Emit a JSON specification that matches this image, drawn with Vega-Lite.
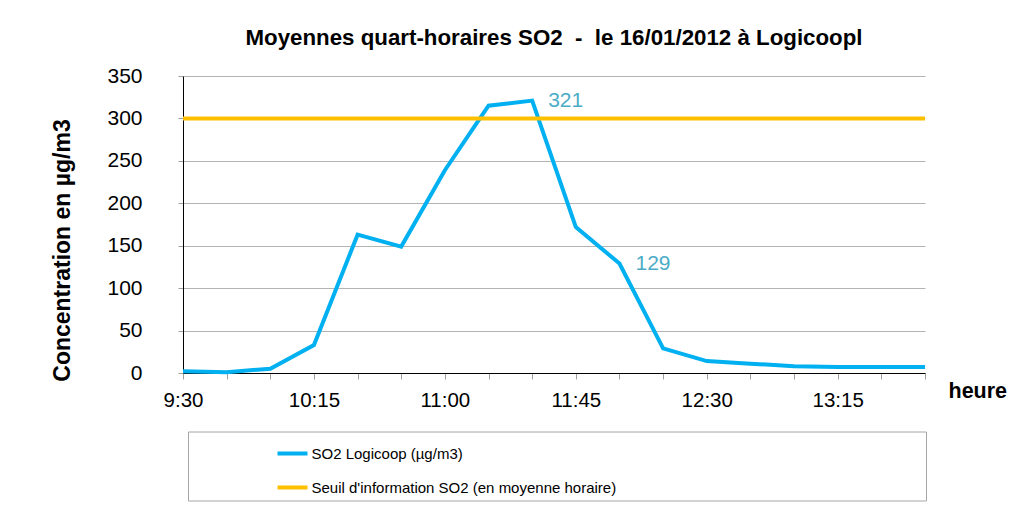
{
  "$schema": "https://vega.github.io/schema/vega-lite/v6.json",
  "width": 742,
  "height": 297,
  "autosize": "none",
  "padding": {"left": 183, "top": 76, "right": 106, "bottom": 141},
  "background": "white",
  "title": {
    "text": "Moyennes quart-horaires SO2\u00a0 -\u00a0 le 16/01/2012 à Logicoopl",
    "anchor": "middle",
    "frame": "group",
    "fontSize": 22.3,
    "fontWeight": "bold",
    "color": "black",
    "offset": 16
  },
  "data": {
    "values": [
      {"heure": "2012-01-16T09:30", "serie": "SO2 Logicoop (µg/m3)", "valeur": 2},
      {"heure": "2012-01-16T09:45", "serie": "SO2 Logicoop (µg/m3)", "valeur": 1},
      {"heure": "2012-01-16T10:00", "serie": "SO2 Logicoop (µg/m3)", "valeur": 5},
      {"heure": "2012-01-16T10:15", "serie": "SO2 Logicoop (µg/m3)", "valeur": 33},
      {"heure": "2012-01-16T10:30", "serie": "SO2 Logicoop (µg/m3)", "valeur": 163},
      {"heure": "2012-01-16T10:45", "serie": "SO2 Logicoop (µg/m3)", "valeur": 149},
      {"heure": "2012-01-16T11:00", "serie": "SO2 Logicoop (µg/m3)", "valeur": 239},
      {"heure": "2012-01-16T11:15", "serie": "SO2 Logicoop (µg/m3)", "valeur": 315},
      {"heure": "2012-01-16T11:30", "serie": "SO2 Logicoop (µg/m3)", "valeur": 321},
      {"heure": "2012-01-16T11:45", "serie": "SO2 Logicoop (µg/m3)", "valeur": 172},
      {"heure": "2012-01-16T12:00", "serie": "SO2 Logicoop (µg/m3)", "valeur": 129},
      {"heure": "2012-01-16T12:15", "serie": "SO2 Logicoop (µg/m3)", "valeur": 29},
      {"heure": "2012-01-16T12:30", "serie": "SO2 Logicoop (µg/m3)", "valeur": 14},
      {"heure": "2012-01-16T12:45", "serie": "SO2 Logicoop (µg/m3)", "valeur": 11},
      {"heure": "2012-01-16T13:00", "serie": "SO2 Logicoop (µg/m3)", "valeur": 8},
      {"heure": "2012-01-16T13:15", "serie": "SO2 Logicoop (µg/m3)", "valeur": 7},
      {"heure": "2012-01-16T13:30", "serie": "SO2 Logicoop (µg/m3)", "valeur": 7},
      {"heure": "2012-01-16T13:45", "serie": "SO2 Logicoop (µg/m3)", "valeur": 7},
      {"heure": "2012-01-16T09:30", "serie": "Seuil d'information SO2 (en moyenne horaire)", "valeur": 300},
      {"heure": "2012-01-16T13:45", "serie": "Seuil d'information SO2 (en moyenne horaire)", "valeur": 300}
    ]
  },
  "encoding": {
    "x": {
      "field": "heure",
      "type": "temporal",
      "axis": {
        "title": "heure",
        "titleFontSize": 21.5,
        "titleFontWeight": "bold",
        "titleAlign": "left",
        "titleBaseline": "alphabetic",
        "titleX": 765,
        "titleY": 24,
        "format": "%-H:%M",
        "labelExpr": "indexof(['9:30', '10:15', '11:00', '11:45', '12:30', '13:15'], datum.label) >= 0 ? datum.label : ''",
        "labelFlush": false,
        "labelOverlap": false,
        "labelFontSize": 20.5,
        "labelPadding": 11,
        "tickSize": 6,
        "tickColor": "#a0a0a0",
        "domainColor": "black",
        "grid": false
      }
    },
    "y": {
      "field": "valeur",
      "type": "quantitative",
      "scale": {"domain": [0, 350]},
      "axis": {
        "title": "Concentration en µg/m3",
        "titleFontSize": 23,
        "titleFontWeight": "bold",
        "titleBaseline": "middle",
        "titleX": -121,
        "titleY": 174,
        "values": [0, 50, 100, 150, 200, 250, 300, 350],
        "labelFontSize": 21,
        "labelPadding": 36,
        "tickSize": 5,
        "tickColor": "#a0a0a0",
        "domainColor": "black",
        "gridColor": "#b4b4b4"
      }
    }
  },
  "layer": [
    {
      "mark": {"type": "line", "strokeWidth": 4},
      "encoding": {
        "color": {
          "field": "serie",
          "type": "nominal",
          "scale": {
            "domain": ["SO2 Logicoop (µg/m3)", "Seuil d'information SO2 (en moyenne horaire)"],
            "range": ["#00b0f0", "#ffc000"]
          },
          "legend": {
            "orient": "none",
            "legendX": 5,
            "legendY": 355.5,
            "direction": "vertical",
            "title": null,
            "strokeColor": "#a6a6a6",
            "padding": 5,
            "symbolType": "stroke",
            "symbolStrokeWidth": 4,
            "symbolSize": 900,
            "symbolOffset": 82.5,
            "labelFontSize": 15,
            "labelColor": "black",
            "labelOffset": 2,
            "labelLimit": 900,
            "labelExpr": "datum.label + '\u00a0\u00a0\u00a0\u00a0\u00a0\u00a0\u00a0\u00a0\u00a0\u00a0\u00a0\u00a0\u00a0\u00a0\u00a0\u00a0\u00a0\u00a0\u00a0\u00a0\u00a0\u00a0\u00a0\u00a0\u00a0\u00a0\u00a0\u00a0\u00a0\u00a0\u00a0\u00a0\u00a0\u00a0\u00a0\u00a0\u00a0\u00a0\u00a0\u00a0\u00a0\u00a0\u00a0\u00a0\u00a0\u00a0\u00a0\u00a0\u00a0\u00a0\u00a0\u00a0\u00a0\u00a0\u00a0\u00a0\u00a0\u00a0\u00a0\u00a0\u00a0\u00a0\u00a0\u00a0\u00a0\u00a0\u00a0\u00a0\u00a0\u00a0\u00a0\u00a0\u00a0\u200b'",
            "rowPadding": 9
          }
        }
      }
    },
    {
      "transform": [{"filter": "datum.valeur == 321 || datum.valeur == 129"}],
      "mark": {"type": "text", "align": "left", "baseline": "middle", "dx": 16, "dy": 0, "fontSize": 21, "color": "#4bacc6"},
      "encoding": {
        "text": {"field": "valeur", "type": "quantitative"}
      }
    }
  ],
  "config": {
    "font": "Liberation Sans",
    "view": {"stroke": null},
    "axis": {"labelColor": "black", "titleColor": "black"}
  }
}
